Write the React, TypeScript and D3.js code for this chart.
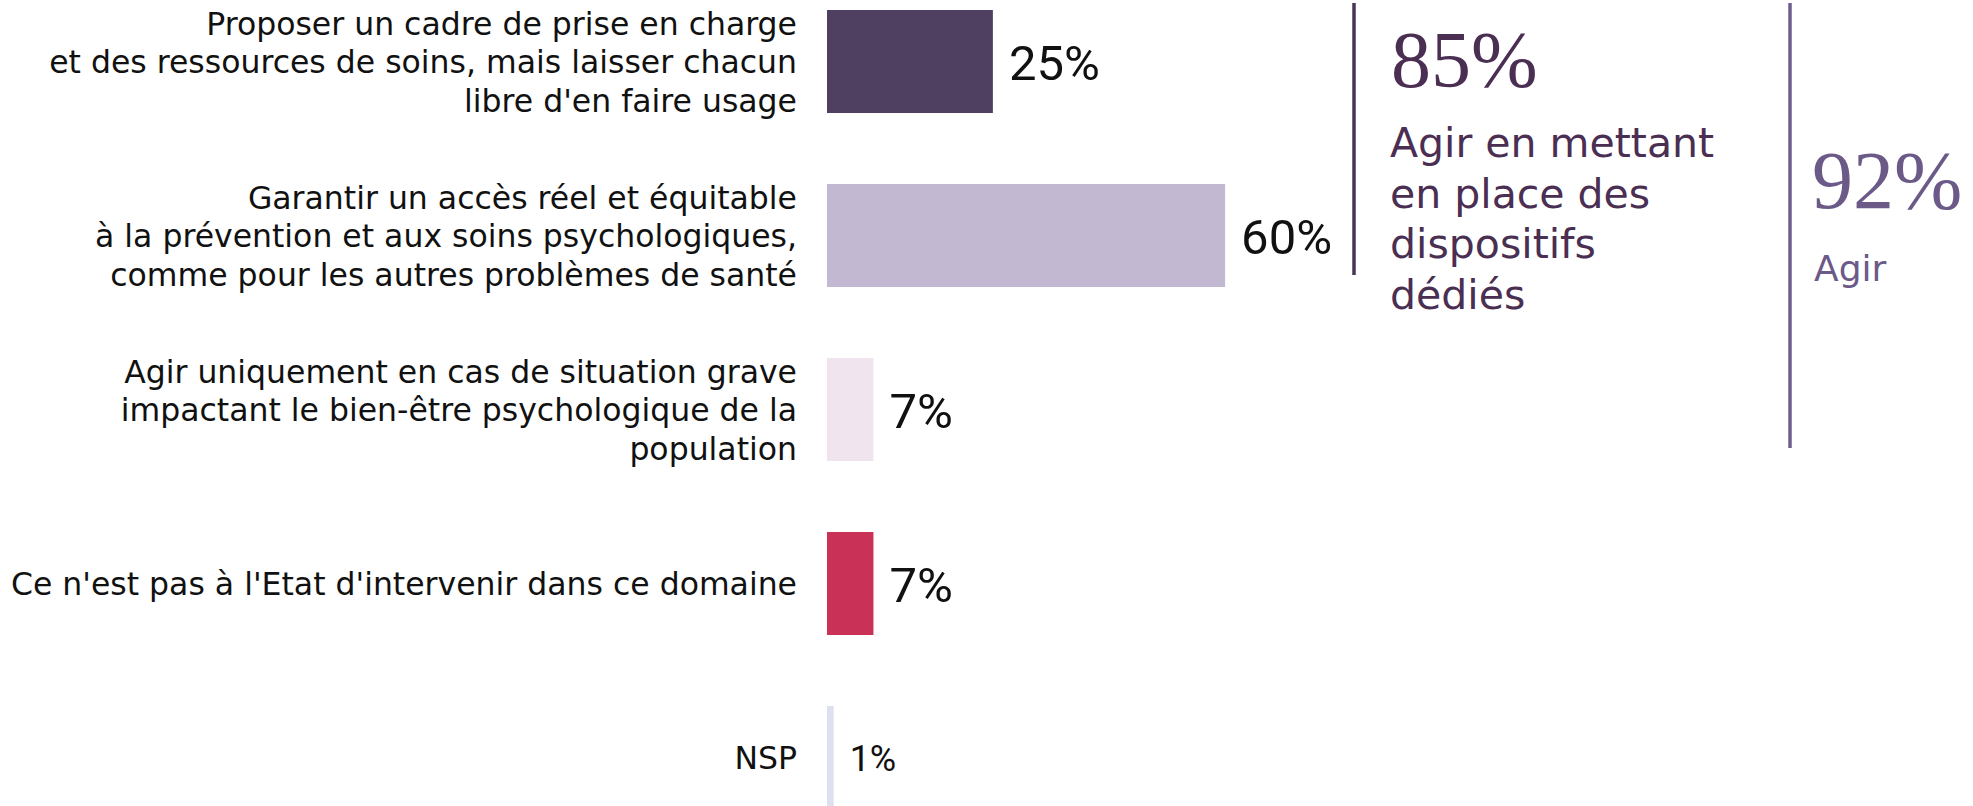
import React from "react";
import * as d3 from "d3";

const categories = ["c1", "c2", "c3", "c4", "c5"];
const categoryLines = [
  ["Proposer un cadre de prise en charge", "et des ressources de soins, mais laisser chacun", "libre d'en faire usage"],
  ["Garantir un accès réel et équitable", "à la prévention et aux soins psychologiques,", "comme pour les autres problèmes de santé"],
  ["Agir uniquement en cas de situation grave", "impactant le bien-être psychologique de la", "population"],
  ["Ce n'est pas à l'Etat d'intervenir dans ce domaine"],
  ["NSP"],
];
const values = [25, 60, 7, 7, 1];
const barColors = ["#4f3f60", "#c3b8d1", "#f0e5ee", "#c93157", "#dde0ee"];

const summaryValues = ["85%", "92%"];
const summaryLabels = [["Agir en mettant", "en place des", "dispositifs", "dédiés"], ["Agir"]];
const summaryColors = ["#4a2f52", "#6b5a88"];

const W = 1973;
const H = 806;
const labelFont = "'DejaVu Sans', 'Open Sans', sans-serif";
const valueFont = "Roboto, 'Liberation Sans', sans-serif";
const serifFont = "'Liberation Serif', 'DejaVu Serif', serif";

export default function App() {
  const x = d3.scaleLinear().domain([0, 100]).range([827, 827 + 663.5]);
  const y = d3
    .scaleBand<string>()
    .domain(categories)
    .range([10, 809])
    .paddingInner(0.408)
    .paddingOuter(0);
  const bw = y.bandwidth();
  const labelRight = 797;
  const lineH = 38.5;

  return (
    <svg
      width={W}
      height={H}
      style={{ position: "absolute", left: 0, top: 0, background: "#fff" }}
    >
      {categories.map((c, i) => {
        const y0 = y(c) as number;
        const cy = y0 + bw / 2;
        const lines = categoryLines[i];
        const n = lines.length;
        const isSmall = i === 4;
        return (
          <g key={c}>
            <rect x={x(0)} y={y0} width={x(values[i]) - x(0)} height={bw} fill={barColors[i]} />
            {lines.map((t, j) => (
              <text
                key={j}
                x={labelRight}
                y={cy + 11.5 + (j - (n - 1) / 2) * lineH}
                textAnchor="end"
                fontFamily={labelFont}
                fontSize={31.5}
                fill="#111"
              >
                {t}
              </text>
            ))}
            <text
              x={x(values[i]) + (isSmall ? 16 : 16)}
              y={cy + (isSmall ? 14 : 18.5)}
              fontFamily={valueFont}
              fontSize={isSmall ? 36 : 49}
              fill="#111"
            >
              {values[i]}%
            </text>
          </g>
        );
      })}

      {/* summary block 1 */}
      <line x1={1354} x2={1354} y1={3} y2={275} stroke="#4a3358" strokeWidth={3.5} />
      <text x={1391} y={87} fontFamily={serifFont} fontSize={80} fill={summaryColors[0]}>
        {summaryValues[0]}
      </text>
      {summaryLabels[0].map((t, j) => (
        <text
          key={j}
          x={1390}
          y={157 + j * 50.5}
          fontFamily={labelFont}
          fontSize={41}
          fill={summaryColors[0]}
        >
          {t}
        </text>
      ))}

      {/* summary block 2 */}
      <line x1={1790} x2={1790} y1={3} y2={448} stroke="#6e5e8c" strokeWidth={3.5} />
      <text x={1812} y={208} fontFamily={serifFont} fontSize={82} fill={summaryColors[1]}>
        {summaryValues[1]}
      </text>
      {summaryLabels[1].map((t, j) => (
        <text
          key={j}
          x={1814}
          y={281 + j * 50.5}
          fontFamily={labelFont}
          fontSize={36}
          fill={summaryColors[1]}
        >
          {t}
        </text>
      ))}
    </svg>
  );
}
